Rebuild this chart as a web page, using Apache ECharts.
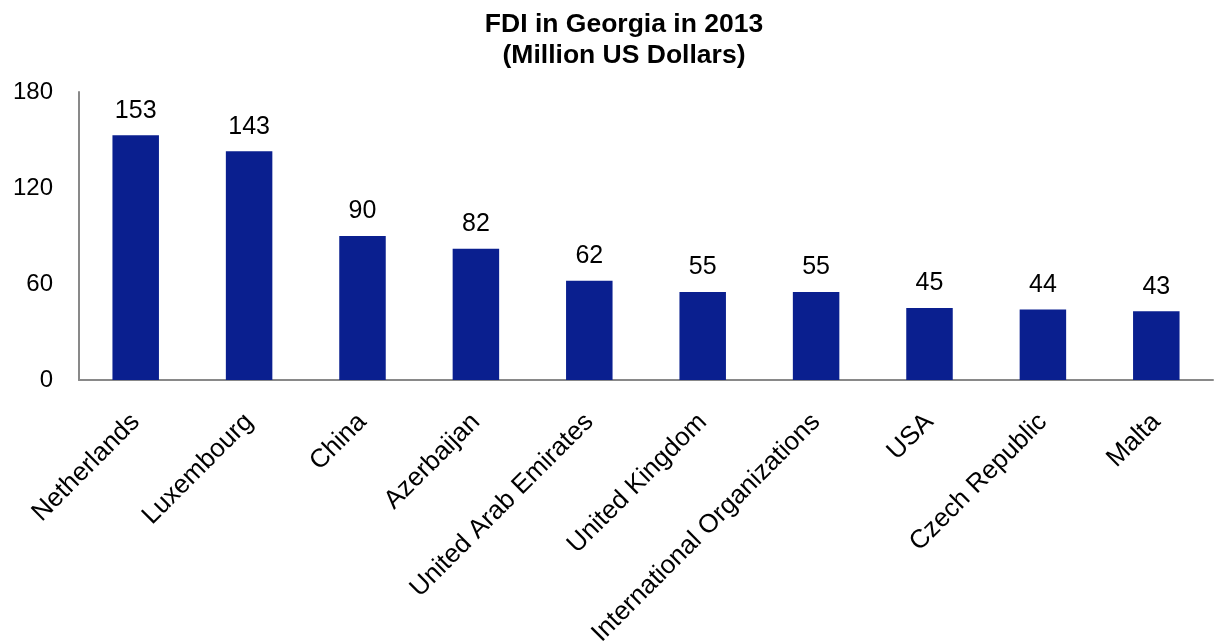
<!DOCTYPE html>
<html><head><meta charset="utf-8">
<script src="https://cdn.jsdelivr.net/npm/echarts@6/dist/echarts.min.js"></script>
<style>html,body{margin:0;padding:0;background:#fff}#c{width:1215px;height:644px}</style>
</head><body><div id="c"></div>
<script>
const categories = ["Netherlands","Luxembourg","China","Azerbaijan","United Arab Emirates","United Kingdom","International Organizations","USA","Czech Republic","Malta"];
const values = [153,143,90,82,62,55,55,45,44,43];
const chart = echarts.init(document.getElementById('c'));
const font = "'Liberation Sans', Arial, sans-serif";
chart.setOption({
  animation:false,
  title:{text:'FDI in Georgia in 2013\n(Million US Dollars)',left:619,textAlign:'center',top:4,
    textStyle:{fontFamily:font,fontSize:26.5,fontWeight:'bold',color:'#000',lineHeight:31}},
  grid:{left:79,right:2,top:92,bottom:264,containLabel:false,outerBoundsMode:'none'},
  xAxis:{type:'category',data:categories,
    axisLine:{lineStyle:{color:'#898989',width:2}},axisTick:{show:false},
    axisLabel:{rotate:45,interval:0,fontFamily:font,fontSize:26,color:'#000',margin:38}},
  yAxis:{type:'value',min:0,max:180,interval:60,
    axisLine:{show:true,lineStyle:{color:'#898989',width:2}},axisTick:{show:false},splitLine:{show:false},
    axisLabel:{fontFamily:font,fontSize:24,color:'#000',margin:26}},
  series:[{type:'bar',data:values,barWidth:'41%',itemStyle:{color:'#0a1f8f'},
    label:{show:true,position:'top',distance:12,fontFamily:font,fontSize:25,color:'#000'}}]
});
</script></body></html>
